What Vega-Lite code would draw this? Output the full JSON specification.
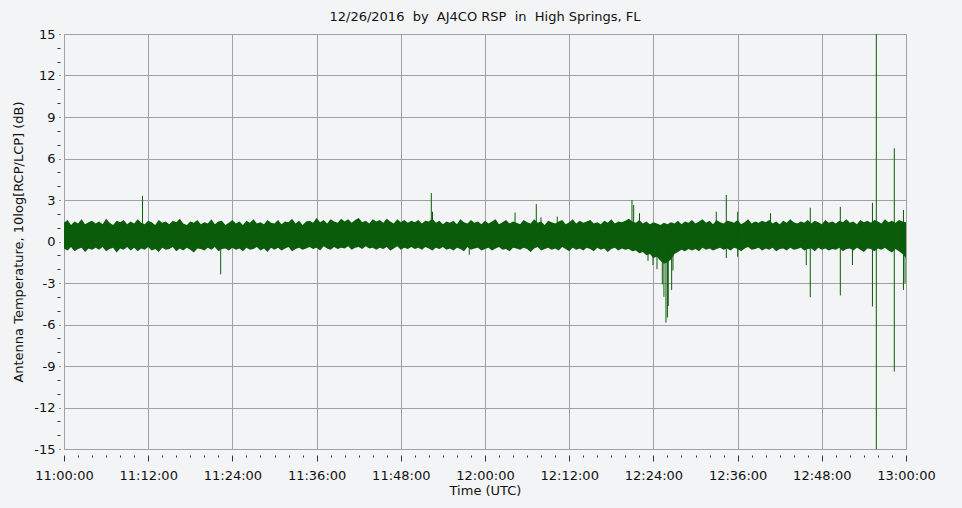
{
  "$schema": "https://vega.github.io/schema/vega-lite/v6.json",
  "autosize": "none",
  "width": 842,
  "height": 415,
  "padding": {"left": 64, "top": 34, "right": 56, "bottom": 59},
  "background": "#f3f4f6",
  "title": {
    "text": "12/26/2016\u00a0 by\u00a0 AJ4CO RSP\u00a0 in\u00a0 High Springs, FL",
    "font": "DejaVu Sans",
    "fontSize": 13,
    "fontWeight": "normal",
    "color": "#111111",
    "offset": 4,
    "anchor": "middle"
  },
  "config": {
    "view": {"stroke": "#a0a0a0", "strokeWidth": 1, "fill": "#f3f4f6"},
    "axis": {
      "labelFont": "DejaVu Sans",
      "labelFontSize": 13,
      "labelColor": "#111111",
      "titleFont": "DejaVu Sans",
      "titleFontSize": 13,
      "titleFontWeight": "normal",
      "titleColor": "#111111",
      "gridColor": "#a0a0a0",
      "gridWidth": 1,
      "tickColor": "#333333",
      "domain": false,
      "labelOverlap": false
    }
  },
  "datasets": {
    "band": [
      {"t":0,"h":1.35,"l":-0.5},{"t":0.5,"h":1.55,"l":-0.65},{"t":1,"h":1.2,"l":-0.4},{"t":1.5,"h":1.45,"l":-0.7},{"t":2,"h":1.3,"l":-0.55},{"t":2.5,"h":1.6,"l":-0.45},{"t":3,"h":1.25,"l":-0.75},{"t":3.5,"h":1.4,"l":-0.5},{"t":4,"h":1.5,"l":-0.6},{"t":4.5,"h":1.3,"l":-0.45},
      {"t":5,"h":1.45,"l":-0.6},{"t":5.5,"h":1.25,"l":-0.4},{"t":6,"h":1.65,"l":-0.7},{"t":6.5,"h":1.35,"l":-0.55},{"t":7,"h":1.2,"l":-0.45},{"t":7.5,"h":1.5,"l":-0.8},{"t":8,"h":1.4,"l":-0.5},{"t":8.5,"h":1.55,"l":-0.6},{"t":9,"h":1.25,"l":-0.4},{"t":9.5,"h":1.45,"l":-0.65},
      {"t":10,"h":1.3,"l":-0.45},{"t":10.5,"h":1.6,"l":-0.7},{"t":11,"h":1.35,"l":-0.5},{"t":11.5,"h":1.25,"l":-0.6},{"t":12,"h":1.5,"l":-0.4},{"t":12.5,"h":1.4,"l":-0.65},{"t":13,"h":1.2,"l":-0.55},{"t":13.5,"h":1.55,"l":-0.75},{"t":14,"h":1.35,"l":-0.45},{"t":14.5,"h":1.45,"l":-0.6},
      {"t":15,"h":1.25,"l":-0.55},{"t":15.5,"h":1.5,"l":-0.4},{"t":16,"h":1.4,"l":-0.7},{"t":16.5,"h":1.65,"l":-0.5},{"t":17,"h":1.3,"l":-0.65},{"t":17.5,"h":1.2,"l":-0.45},{"t":18,"h":1.45,"l":-0.6},{"t":18.5,"h":1.35,"l":-0.8},{"t":19,"h":1.55,"l":-0.5},{"t":19.5,"h":1.25,"l":-0.55},
      {"t":20,"h":1.4,"l":-0.65},{"t":20.5,"h":1.3,"l":-0.45},{"t":21,"h":1.6,"l":-0.6},{"t":21.5,"h":1.25,"l":-0.4},{"t":22,"h":1.45,"l":-0.7},{"t":22.5,"h":1.5,"l":-0.55},{"t":23,"h":1.2,"l":-0.5},{"t":23.5,"h":1.35,"l":-0.65},{"t":24,"h":1.55,"l":-0.45},{"t":24.5,"h":1.3,"l":-0.6},
      {"t":25,"h":1.45,"l":-0.5},{"t":25.5,"h":1.2,"l":-0.7},{"t":26,"h":1.5,"l":-0.45},{"t":26.5,"h":1.35,"l":-0.6},{"t":27,"h":1.6,"l":-0.55},{"t":27.5,"h":1.3,"l":-0.4},{"t":28,"h":1.4,"l":-0.65},{"t":28.5,"h":1.25,"l":-0.5},{"t":29,"h":1.55,"l":-0.75},{"t":29.5,"h":1.35,"l":-0.45},
      {"t":30,"h":1.3,"l":-0.6},{"t":30.5,"h":1.55,"l":-0.45},{"t":31,"h":1.25,"l":-0.65},{"t":31.5,"h":1.45,"l":-0.5},{"t":32,"h":1.4,"l":-0.4},{"t":32.5,"h":1.65,"l":-0.7},{"t":33,"h":1.3,"l":-0.55},{"t":33.5,"h":1.5,"l":-0.45},{"t":34,"h":1.2,"l":-0.6},{"t":34.5,"h":1.45,"l":-0.5},
      {"t":35,"h":1.5,"l":-0.4},{"t":35.5,"h":1.35,"l":-0.55},{"t":36,"h":1.7,"l":-0.45},{"t":36.5,"h":1.4,"l":-0.65},{"t":37,"h":1.55,"l":-0.35},{"t":37.5,"h":1.3,"l":-0.5},{"t":38,"h":1.6,"l":-0.6},{"t":38.5,"h":1.45,"l":-0.4},{"t":39,"h":1.35,"l":-0.55},{"t":39.5,"h":1.65,"l":-0.45},
      {"t":40,"h":1.45,"l":-0.5},{"t":40.5,"h":1.6,"l":-0.35},{"t":41,"h":1.35,"l":-0.6},{"t":41.5,"h":1.55,"l":-0.45},{"t":42,"h":1.7,"l":-0.4},{"t":42.5,"h":1.4,"l":-0.55},{"t":43,"h":1.5,"l":-0.35},{"t":43.5,"h":1.3,"l":-0.5},{"t":44,"h":1.6,"l":-0.45},{"t":44.5,"h":1.45,"l":-0.6},
      {"t":45,"h":1.55,"l":-0.45},{"t":45.5,"h":1.35,"l":-0.55},{"t":46,"h":1.65,"l":-0.4},{"t":46.5,"h":1.45,"l":-0.65},{"t":47,"h":1.3,"l":-0.5},{"t":47.5,"h":1.6,"l":-0.35},{"t":48,"h":1.4,"l":-0.6},{"t":48.5,"h":1.55,"l":-0.45},{"t":49,"h":1.35,"l":-0.55},{"t":49.5,"h":1.5,"l":-0.4},
      {"t":50,"h":1.4,"l":-0.55},{"t":50.5,"h":1.55,"l":-0.45},{"t":51,"h":1.3,"l":-0.6},{"t":51.5,"h":1.5,"l":-0.4},{"t":52,"h":1.45,"l":-0.5},{"t":52.5,"h":1.65,"l":-0.65},{"t":53,"h":1.35,"l":-0.45},{"t":53.5,"h":1.5,"l":-0.55},{"t":54,"h":1.25,"l":-0.4},{"t":54.5,"h":1.45,"l":-0.6},
      {"t":55,"h":1.35,"l":-0.5},{"t":55.5,"h":1.5,"l":-0.65},{"t":56,"h":1.25,"l":-0.45},{"t":56.5,"h":1.6,"l":-0.55},{"t":57,"h":1.4,"l":-0.7},{"t":57.5,"h":1.3,"l":-0.4},{"t":58,"h":1.55,"l":-0.6},{"t":58.5,"h":1.35,"l":-0.5},{"t":59,"h":1.45,"l":-0.45},{"t":59.5,"h":1.25,"l":-0.65},
      {"t":60,"h":1.5,"l":-0.55},{"t":60.5,"h":1.3,"l":-0.45},{"t":61,"h":1.45,"l":-0.65},{"t":61.5,"h":1.6,"l":-0.5},{"t":62,"h":1.25,"l":-0.4},{"t":62.5,"h":1.4,"l":-0.6},{"t":63,"h":1.55,"l":-0.55},{"t":63.5,"h":1.3,"l":-0.7},{"t":64,"h":1.45,"l":-0.45},{"t":64.5,"h":1.35,"l":-0.5},
      {"t":65,"h":1.25,"l":-0.6},{"t":65.5,"h":1.55,"l":-0.45},{"t":66,"h":1.4,"l":-0.55},{"t":66.5,"h":1.3,"l":-0.75},{"t":67,"h":1.6,"l":-0.5},{"t":67.5,"h":1.35,"l":-0.4},{"t":68,"h":1.45,"l":-0.65},{"t":68.5,"h":1.2,"l":-0.55},{"t":69,"h":1.5,"l":-0.45},{"t":69.5,"h":1.4,"l":-0.6},
      {"t":70,"h":1.3,"l":-0.5},{"t":70.5,"h":1.45,"l":-0.65},{"t":71,"h":1.55,"l":-0.4},{"t":71.5,"h":1.25,"l":-0.55},{"t":72,"h":1.4,"l":-0.7},{"t":72.5,"h":1.6,"l":-0.45},{"t":73,"h":1.3,"l":-0.6},{"t":73.5,"h":1.5,"l":-0.5},{"t":74,"h":1.35,"l":-0.65},{"t":74.5,"h":1.45,"l":-0.45},
      {"t":75,"h":1.55,"l":-0.55},{"t":75.5,"h":1.3,"l":-0.7},{"t":76,"h":1.4,"l":-0.45},{"t":76.5,"h":1.25,"l":-0.6},{"t":77,"h":1.5,"l":-0.5},{"t":77.5,"h":1.35,"l":-0.75},{"t":78,"h":1.6,"l":-0.55},{"t":78.5,"h":1.3,"l":-0.45},{"t":79,"h":1.45,"l":-0.65},{"t":79.5,"h":1.4,"l":-0.5},
      {"t":80,"h":1.5,"l":-0.6},{"t":80.5,"h":1.65,"l":-0.55},{"t":81,"h":1.45,"l":-0.7},{"t":81.5,"h":1.35,"l":-0.65},{"t":82,"h":1.55,"l":-0.85},{"t":82.5,"h":1.3,"l":-0.75},{"t":83,"h":1.45,"l":-1.0},{"t":83.5,"h":1.25,"l":-0.9},{"t":84,"h":1.4,"l":-1.2},{"t":84.5,"h":1.3,"l":-1.1},
      {"t":85,"h":1.2,"l":-1.4},{"t":85.5,"h":1.35,"l":-1.6},{"t":86,"h":1.25,"l":-1.5},{"t":86.5,"h":1.4,"l":-1.3},{"t":87,"h":1.3,"l":-0.9},{"t":87.5,"h":1.5,"l":-0.75},{"t":88,"h":1.25,"l":-0.6},{"t":88.5,"h":1.45,"l":-0.7},{"t":89,"h":1.35,"l":-0.55},{"t":89.5,"h":1.55,"l":-0.65},
      {"t":90,"h":1.3,"l":-0.55},{"t":90.5,"h":1.45,"l":-0.7},{"t":91,"h":1.6,"l":-0.45},{"t":91.5,"h":1.35,"l":-0.6},{"t":92,"h":1.5,"l":-0.5},{"t":92.5,"h":1.25,"l":-0.65},{"t":93,"h":1.55,"l":-0.55},{"t":93.5,"h":1.4,"l":-0.45},{"t":94,"h":1.3,"l":-0.6},{"t":94.5,"h":1.5,"l":-0.5},
      {"t":95,"h":1.45,"l":-0.65},{"t":95.5,"h":1.35,"l":-0.45},{"t":96,"h":1.55,"l":-0.55},{"t":96.5,"h":1.25,"l":-0.7},{"t":97,"h":1.4,"l":-0.5},{"t":97.5,"h":1.6,"l":-0.4},{"t":98,"h":1.3,"l":-0.6},{"t":98.5,"h":1.45,"l":-0.55},{"t":99,"h":1.35,"l":-0.45},{"t":99.5,"h":1.5,"l":-0.65},
      {"t":100,"h":1.4,"l":-0.5},{"t":100.5,"h":1.55,"l":-0.6},{"t":101,"h":1.3,"l":-0.45},{"t":101.5,"h":1.45,"l":-0.7},{"t":102,"h":1.25,"l":-0.55},{"t":102.5,"h":1.5,"l":-0.5},{"t":103,"h":1.35,"l":-0.65},{"t":103.5,"h":1.6,"l":-0.45},{"t":104,"h":1.4,"l":-0.6},{"t":104.5,"h":1.3,"l":-0.55},
      {"t":105,"h":1.45,"l":-0.45},{"t":105.5,"h":1.35,"l":-0.65},{"t":106,"h":1.55,"l":-0.55},{"t":106.5,"h":1.3,"l":-0.5},{"t":107,"h":1.5,"l":-0.7},{"t":107.5,"h":1.4,"l":-0.45},{"t":108,"h":1.25,"l":-0.6},{"t":108.5,"h":1.55,"l":-0.5},{"t":109,"h":1.35,"l":-0.65},{"t":109.5,"h":1.45,"l":-0.55},
      {"t":110,"h":1.3,"l":-0.6},{"t":110.5,"h":1.5,"l":-0.45},{"t":111,"h":1.4,"l":-0.7},{"t":111.5,"h":1.6,"l":-0.55},{"t":112,"h":1.35,"l":-0.5},{"t":112.5,"h":1.45,"l":-0.65},{"t":113,"h":1.25,"l":-0.45},{"t":113.5,"h":1.55,"l":-0.6},{"t":114,"h":1.4,"l":-0.75},{"t":114.5,"h":1.5,"l":-0.5},
      {"t":115,"h":1.35,"l":-0.55},{"t":115.5,"h":1.55,"l":-0.7},{"t":116,"h":1.45,"l":-0.5},{"t":116.5,"h":1.3,"l":-0.6},{"t":117,"h":1.6,"l":-0.45},{"t":117.5,"h":1.4,"l":-0.65},{"t":118,"h":1.5,"l":-0.8},{"t":118.5,"h":1.35,"l":-0.55},{"t":119,"h":1.55,"l":-0.7},{"t":119.5,"h":1.45,"l":-0.9},
      {"t":120,"h":1.4,"l":-1.2}
    ],
    "spikes": [
      {"t":11.19,"a":1.0,"b":3.3},
      {"t":22.33,"a":-0.3,"b":-2.37},
      {"t":52.35,"a":1.0,"b":3.5},
      {"t":52.52,"a":1.0,"b":2.15},
      {"t":57.76,"a":-0.3,"b":-0.95},
      {"t":64.28,"a":1.0,"b":2.1},
      {"t":67.31,"a":1.0,"b":2.7},
      {"t":67.98,"a":1.0,"b":1.75},
      {"t":70.3,"a":1.0,"b":1.8},
      {"t":80.95,"a":1.0,"b":3.0},
      {"t":81.19,"a":1.0,"b":2.64},
      {"t":82.02,"a":1.0,"b":2.05},
      {"t":83.23,"a":-0.3,"b":-1.4},
      {"t":83.94,"a":-0.3,"b":-1.7},
      {"t":84.51,"a":-0.3,"b":-2.0},
      {"t":85.27,"a":-0.3,"b":-3.1},
      {"t":85.5,"a":-0.3,"b":-4.0},
      {"t":85.79,"a":-0.3,"b":-5.87},
      {"t":86.0,"a":-0.3,"b":-5.5},
      {"t":86.12,"a":-0.3,"b":-4.66},
      {"t":86.6,"a":-0.3,"b":-3.5},
      {"t":86.79,"a":-0.3,"b":-2.1},
      {"t":92.96,"a":1.0,"b":2.15},
      {"t":94.39,"a":-1.2,"b":3.36},
      {"t":96.01,"a":-1.1,"b":2.15},
      {"t":100.69,"a":1.0,"b":2.05},
      {"t":105.79,"a":-0.3,"b":-1.7},
      {"t":106.36,"a":-4.03,"b":2.44},
      {"t":110.64,"a":-3.9,"b":2.5},
      {"t":112.37,"a":-0.3,"b":-1.7},
      {"t":115.22,"a":-4.7,"b":2.8},
      {"t":115.77,"a":-15,"b":15},
      {"t":118.33,"a":-9.4,"b":6.74},
      {"t":119.64,"a":-3.5,"b":2.28},
      {"t":119.86,"a":-0.3,"b":-3.0}
    ]
  },
  "layer": [
    {
      "data": {"name": "band"},
      "mark": {"type": "area", "color": "#0a5c0a", "interpolate": "linear"},
      "encoding": {
        "x": {
          "field": "t", "type": "quantitative",
          "scale": {"domain": [0, 120], "nice": false, "zero": false},
          "axis": {
            "title": "Time (UTC)",
            "titlePadding": 2,
            "tickCount": 200,
            "values": [0,2,4,6,8,10,12,14,16,18,20,22,24,26,28,30,32,34,36,38,40,42,44,46,48,50,52,54,56,58,60,62,64,66,68,70,72,74,76,78,80,82,84,86,88,90,92,94,96,98,100,102,104,106,108,110,112,114,116,118,120],
            "labelExpr": "datum.value % 12 === 0 ? (11 + floor(datum.value / 60)) + ':' + (datum.value % 60 < 10 ? '0' : '') + (datum.value % 60) + ':00' : ''",
            "labelFlush": false,
            "offset": 6,
            "tickSize": {"condition": {"test": "datum.value % 12 === 0", "value": 6}, "value": 2},
            "gridOpacity": {"condition": {"test": "datum.value % 12 === 0", "value": 1}, "value": 0},
            "labelPadding": 8
          }
        },
        "y": {
          "field": "l", "type": "quantitative",
          "scale": {"domain": [-15, 15], "nice": false, "zero": false},
          "axis": {
            "title": "Antenna Temperature, 10log[RCP/LCP] (dB)",
            "tickCount": 200,
            "values": [-15,-14,-13,-12,-11,-10,-9,-8,-7,-6,-5,-4,-3,-2,-1,0,1,2,3,4,5,6,7,8,9,10,11,12,13,14,15],
            "labelExpr": "datum.value % 3 === 0 ? datum.value : ''",
            "offset": 4,
            "tickSize": {"condition": {"test": "datum.value % 3 === 0", "value": 1}, "value": 3},
            "gridOpacity": {"condition": {"test": "datum.value % 3 === 0", "value": 1}, "value": 0},
            "labelPadding": 4,
            "titlePadding": 8
          }
        },
        "y2": {"field": "h"}
      }
    },
    {
      "data": {"name": "spikes"},
      "mark": {"type": "rule", "color": "#0a5c0a", "strokeWidth": 1},
      "encoding": {
        "x": {"field": "t", "type": "quantitative"},
        "y": {"field": "a", "type": "quantitative"},
        "y2": {"field": "b"}
      }
    }
  ]
}
